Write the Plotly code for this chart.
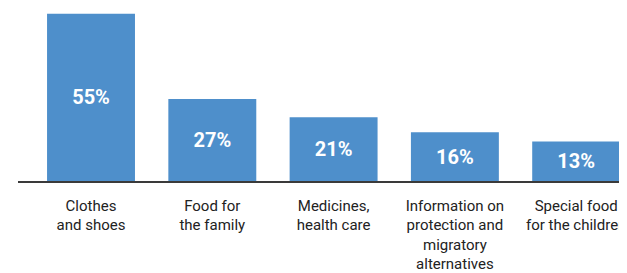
import plotly.graph_objects as go

categories = ["Clothes<br>and shoes", "Food for<br>the family", "Medicines,<br>health care",
              "Information on<br>protection and<br>migratory<br>alternatives", "Special food<br>for the children"]
values = [55, 27, 21, 16, 13]
labels = [f"{v}%" for v in values]

fig = go.Figure(go.Bar(
    x=list(range(len(categories))), y=values,
    text=labels, textposition="inside", insidetextanchor="middle",
    textfont=dict(family="Roboto", size=20, color="white", weight="bold"),
    marker=dict(color="#4e8fcb", line=dict(width=0)),
    width=0.725, cliponaxis=False,
))
fig.update_layout(
    width=619, height=265,
    margin=dict(l=10, r=0, t=0, b=86),
    paper_bgcolor="white", plot_bgcolor="white",
    showlegend=False,
)
fig.update_xaxes(
    range=[-0.602, 4.419], tickmode="array", tickvals=list(range(len(categories))),
    ticktext=categories, showgrid=False, zeroline=False,
    showline=True, linecolor="#3a3a3a", linewidth=1.5,
    tickfont=dict(family="Roboto", size=15, color="#222"), ticks="",
    ticklabelstandoff=10, fixedrange=True,
)
fig.update_yaxes(range=[0, 56.9], visible=False, showgrid=False, zeroline=False)
fig.write_html("out.html")
